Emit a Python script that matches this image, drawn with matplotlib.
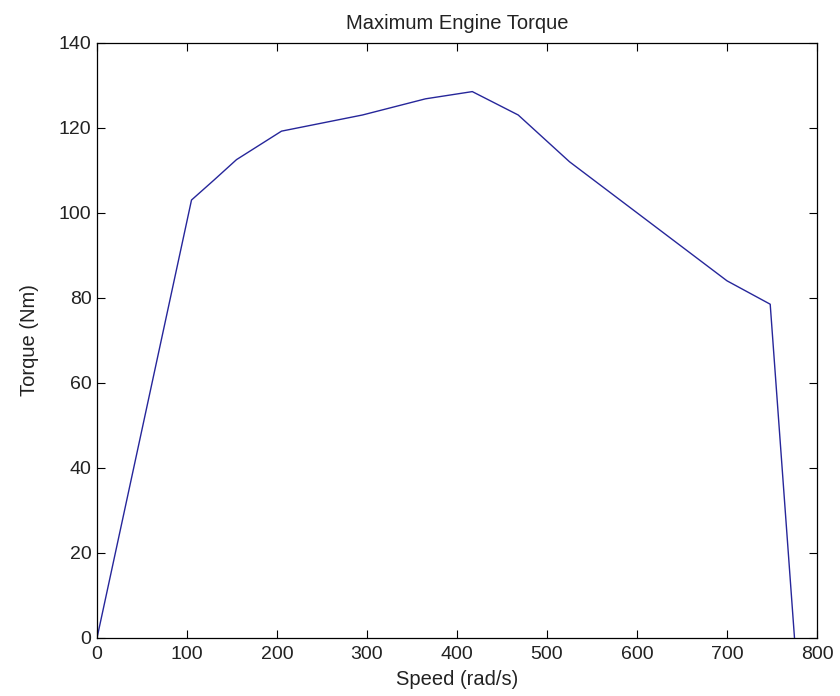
import matplotlib
matplotlib.use("Agg")
import matplotlib.pyplot as plt

# engine torque curve
speed = [0, 105, 130, 155, 205, 295, 365, 417, 468, 525, 700, 748, 775]
torque = [0, 103, 107.7, 112.5, 119.2, 123, 126.8, 128.5, 123, 112, 84, 78.5, 0]

x_ticks = [0, 100, 200, 300, 400, 500, 600, 700, 800]
y_ticks = [0, 20, 40, 60, 80, 100, 120, 140]

plt.rcParams['font.family'] = ['Liberation Sans', 'DejaVu Sans']

fig = plt.figure(figsize=(8.4, 6.96), dpi=100)
ax = fig.add_axes([97 / 840, 1 - 638 / 696, (817 - 97) / 840, (638 - 42.7) / 696])

ax.plot(speed, torque, color='#26269a', linewidth=1.0)

ax.set_xlim(0, 800)
ax.set_ylim(0, 140)
ax.set_xticks(x_ticks)
ax.set_yticks(y_ticks)
ax.tick_params(direction='in', length=6, width=0.8, top=True, right=True,
               labelsize=14, colors='black', labelcolor='#222222')
ax.tick_params(axis='x', pad=6)
ax.tick_params(axis='y', pad=4)
for s in ax.spines.values():
    s.set_linewidth(0.9)

ax.set_title('Maximum Engine Torque', fontsize=14.5, pad=10, color='#222222')
ax.set_xlabel('Speed (rad/s)', fontsize=14.5, labelpad=5, color='#222222')
ax.set_ylabel('Torque (Nm)', fontsize=14.5, labelpad=14, color='#222222')

fig.savefig('out.png', dpi=100)
